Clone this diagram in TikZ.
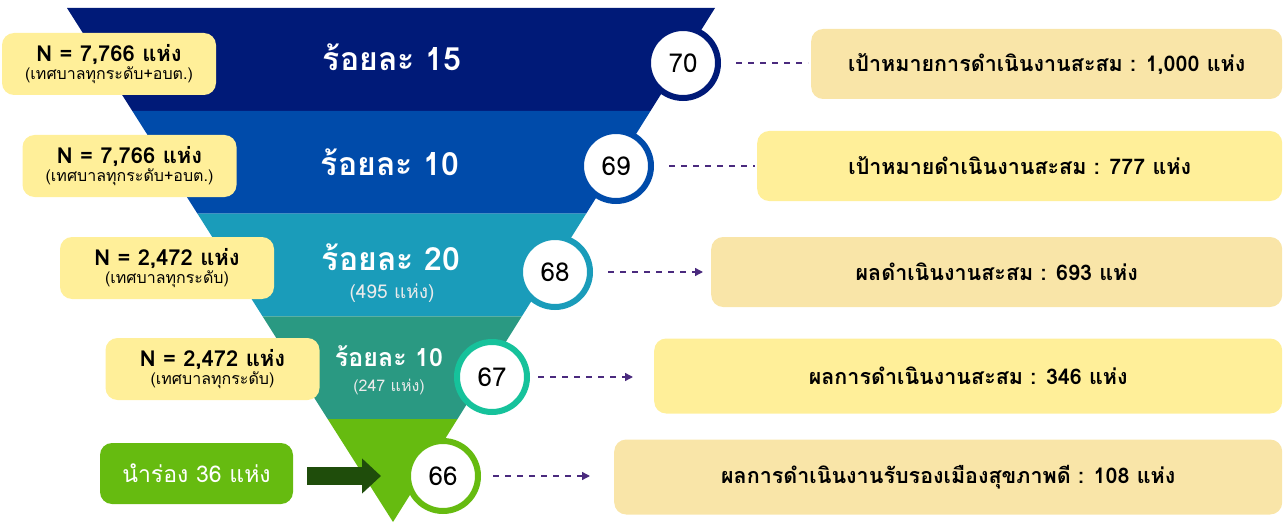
\documentclass[tikz,border=0pt]{standalone}
\usepackage{fontspec}
\setmainfont[Script=Thai]{Loma}
\usetikzlibrary{arrows.meta,calc}
\definecolor{bandA}{RGB}{0,26,120}
\definecolor{bandB}{RGB}{0,75,170}
\definecolor{bandC}{RGB}{26,156,186}
\definecolor{bandD}{RGB}{42,153,130}
\definecolor{bandE}{RGB}{102,187,16}
\definecolor{ringD}{RGB}{22,194,155}
\definecolor{ylight}{RGB}{255,239,153}
\definecolor{wheat}{RGB}{249,229,168}
\definecolor{darkgreen}{RGB}{31,77,11}
\definecolor{dashc}{RGB}{74,42,126}
\tikzset{
  bandtext/.style={text=white,font=\bfseries\fontsize{32}{36}\selectfont},
  subtext/.style={text=white!92!black,font=\fontsize{19}{21}\selectfont},
  numcircle/.style={circle,fill=white,draw=#1,line width=6pt,minimum size=70pt,inner sep=0pt,font=\fontsize{26}{28}\selectfont},
  leftbox/.style={fill=ylight,rounded corners=12pt,minimum width=214pt,minimum height=62pt,inner sep=0pt,align=center},
  rightbox/.style={fill=#1,rounded corners=12pt,minimum height=70pt,inner sep=0pt,anchor=west,font=\bfseries\fontsize{21.5}{24}\selectfont},
  dashlink/.style={draw=dashc,line width=1.4pt,dash pattern=on 6pt off 6pt},
  dasharrow/.style={dashlink,-{Triangle[length=8pt,width=8pt]}},
}
\newcommand{\nbig}[1]{{\bfseries\fontsize{22}{24}\selectfont #1}}
\newcommand{\nsmall}[1]{{\fontsize{16}{18}\selectfont #1}}
\begin{document}
\begin{tikzpicture}[x=1pt,y=-1pt]
\useasboundingbox (0,0) rectangle (1283,524);
% funnel bands
\fill[bandA] (67,8) -- (715,8) -- (650.6,110.8) -- (132.2,110.8) -- cycle;
\fill[bandB] (132.2,110.8) -- (650.6,110.8) -- (586.2,213.6) -- (197.4,213.6) -- cycle;
\fill[bandC] (197.4,213.6) -- (586.2,213.6) -- (521.8,316.4) -- (262.6,316.4) -- cycle;
\fill[bandD] (262.6,316.4) -- (521.8,316.4) -- (457.4,419.2) -- (327.8,419.2) -- cycle;
\fill[bandE] (327.8,419.2) -- (457.4,419.2) -- (393,522) -- cycle;
% band texts
\node[bandtext] (t1) at (392,57) {ร้อยละ 15};
\node[bandtext] (t2) at (390,162) {ร้อยละ 10};
\node[bandtext] (t3) at (391,257) {ร้อยละ 20};
\node[subtext] (s3) at (392,293) {(495 แห่ง)};
\node[bandtext,font=\bfseries\fontsize{25}{28}\selectfont] (t4) at (389,356) {ร้อยละ 10};
\node[subtext,font=\fontsize{16}{18}\selectfont] (s4) at (389,387) {(247 แห่ง)};
% left boxes
\node[leftbox] (l1) at (109,64) {\nbig{N = 7,766 แห่ง}\\[1pt]\nsmall{(เทศบาลทุกระดับ+อบต.)}};
\node[leftbox] (l2) at (129.5,166) {\nbig{N = 7,766 แห่ง}\\[1pt]\nsmall{(เทศบาลทุกระดับ+อบต.)}};
\node[leftbox] (l3) at (167,268) {\nbig{N = 2,472 แห่ง}\\[1pt]\nsmall{(เทศบาลทุกระดับ)}};
\node[leftbox] (l4) at (212.5,369) {\nbig{N = 2,472 แห่ง}\\[1pt]\nsmall{(เทศบาลทุกระดับ)}};
\node[fill=bandE,rounded corners=12pt,minimum width=193pt,minimum height=61pt,inner sep=0pt,text=white,font=\fontsize{23}{26}\selectfont] (pilot) at (196.5,473.5) {นำร่อง 36 แห่ง};
% circles
\node[numcircle=bandA] (c70) at (683,63) {70};
\node[numcircle=bandB] (c69) at (616,166) {69};
\node[numcircle=bandC] (c68) at (555,272) {68};
\node[numcircle=ringD] (c67) at (492,377) {67};
\node[numcircle=bandE] (c66) at (443,476) {66};
% arrow from pilot box
\coordinate (ah) at (381,476);
\draw[darkgreen,line width=18pt,-{Triangle[length=19pt,width=34pt]}] (pilot.east) ++(14,2.5) -- (ah);
% right boxes
\node[rightbox=wheat,minimum width=471pt] (r1) at (811,64) {เป้าหมายการดำเนินงานสะสม : 1,000 แห่ง};
\node[rightbox=ylight,minimum width=525pt] (r2) at (757,166) {เป้าหมายดำเนินงานสะสม : 777 แห่ง};
\node[rightbox=wheat,minimum width=571pt] (r3) at (711,272) {ผลดำเนินงานสะสม : 693 แห่ง};
\node[rightbox=ylight,minimum width=628pt,minimum height=75pt] (r4) at (654,376) {ผลการดำเนินงานสะสม : 346 แห่ง};
\node[rightbox=wheat,minimum width=668pt,minimum height=75pt] (r5) at (614,477) {ผลการดำเนินงานรับรองเมืองสุขภาพดี : 108 แห่ง};
% connectors
\draw[dashlink,shorten <=15pt,shorten >=3pt] (c70.east) -- (c70.east -| r1.west);
\draw[dashlink,shorten <=15pt,shorten >=2pt] (c69.east) -- (c69.east -| r2.west);
\draw[dasharrow,shorten <=15pt,shorten >=8pt] (c68.east) -- (c68.east -| r3.west);
\draw[dasharrow,shorten <=8pt,shorten >=21pt] (c67.east) -- (c67.east -| r4.west);
\draw[dasharrow,shorten <=12pt,shorten >=24pt] (c66.east) -- (c66.east -| r5.west);
\end{tikzpicture}
\end{document}
